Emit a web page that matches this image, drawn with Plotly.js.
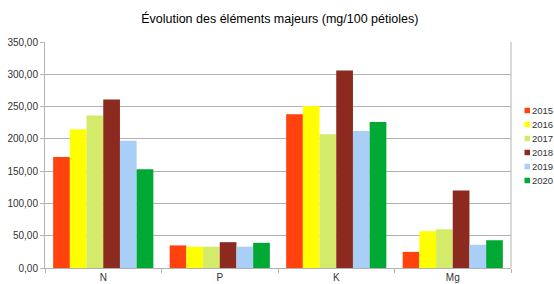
<!DOCTYPE html>
<html><head><meta charset="utf-8">
<script src="https://cdn.plot.ly/plotly-3.0.1.min.js"></script>
<style>html,body{margin:0;padding:0;background:#fff}#c{width:554px;height:284px}</style>
</head><body><div id="c"></div>
<script>
const categories = ["N", "P", "K", "Mg"];
const years = ["2015", "2016", "2017", "2018", "2019", "2020"];
const v2015 = [172, 35, 238, 25];
const v2016 = [215, 33, 251, 57];
const v2017 = [236, 33, 207, 60];
const v2018 = [261, 40, 306, 120];
const v2019 = [197, 33, 212, 36];
const v2020 = [153, 39, 226, 43];
const colors = ["#ff420e", "#ffff00", "#d4ea6b", "#8d2a20", "#aacff7", "#00a933"];
const series = [v2015, v2016, v2017, v2018, v2019, v2020];

const traces = series.map((vals, i) => ({
  type: "bar", name: years[i], x: categories, y: vals,
  marker: {color: colors[i], line: {width: 0}},
  hoverinfo: "none"
}));

// manual legend (paper coords): plot spans x 45..511, y 42..268 px
const W = 466, H = 226, L = 45, B = 268;
const px = x => (x - L) / W;
const py = y => (B - y) / H;
const shapes = [{type: "line", xref: "paper", yref: "paper", x0: 1, x1: 1, y0: 0, y1: 1,
  line: {color: "#b3b3b3", width: 1}}];
const annotations = [];
years.forEach((yr, i) => {
  const cy = 110.5 + i * 14;
  shapes.push({type: "rect", xref: "paper", yref: "paper",
    x0: px(524.5), x1: px(530), y0: py(cy + 2.75), y1: py(cy - 2.75),
    fillcolor: colors[i], line: {width: 0}});
  annotations.push({xref: "paper", yref: "paper", x: px(532), y: py(cy),
    xanchor: "left", yanchor: "middle", text: yr, showarrow: false, borderpad: 0, borderwidth: 0,
    font: {size: 9.5, color: "#333"}});
});

const layout = {
  width: 554, height: 284,
  margin: {l: 45, r: 43, t: 42, b: 16},
  paper_bgcolor: "#fff", plot_bgcolor: "#fff",
  font: {family: "Liberation Sans, Arial, sans-serif", size: 10, color: "#333"},
  separators: ", ",
  title: {text: "Évolution des éléments majeurs (mg/100 pétioles)", font: {size: 12.5, color: "#000"}, x: 0.505, xanchor: "center", y: 0.935, yanchor: "middle"},
  barmode: "group", bargap: 0.14, bargroupgap: 0,
  xaxis: {type: "category", showline: true, linecolor: "#b3b3b3", linewidth: 1,
    ticks: "outside", tickson: "boundaries", ticklen: 4, tickcolor: "#b3b3b3",
    showgrid: false, tickfont: {size: 10, color: "#333"}, fixedrange: true},
  yaxis: {range: [0, 350], dtick: 50, tickformat: ".2f", showline: true, linecolor: "#b3b3b3",
    ticks: "outside", ticklen: 4, tickcolor: "#b3b3b3", gridcolor: "#b3b3b3", gridwidth: 1,
    zeroline: false, tickfont: {size: 10, color: "#333"}, fixedrange: true},
  showlegend: false,
  shapes: shapes, annotations: annotations
};
Plotly.newPlot("c", traces, layout, {displayModeBar: false, staticPlot: true});
</script></body></html>
